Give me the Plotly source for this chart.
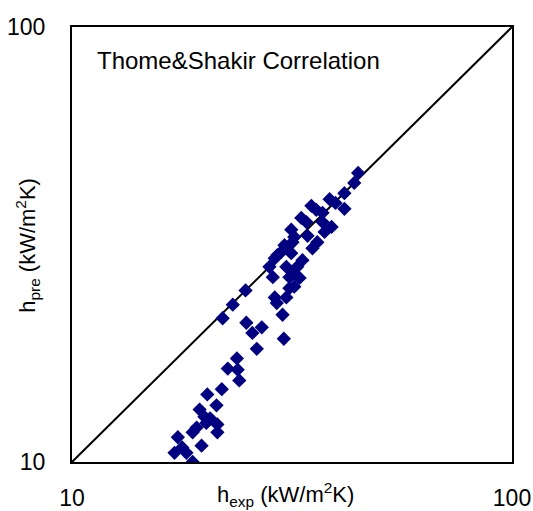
import plotly.graph_objects as go

#%% DATA
h_exp = [44.7, 43.8, 41.6, 38.5, 39.7, 41.6, 35.0, 35.9, 37.1, 33.2,
         34.1, 37.1, 38.9, 37.5, 31.5, 32.0, 34.3, 30.4, 31.7, 36.1,
         35.2, 29.3, 28.9, 31.5, 29.9, 33.4, 28.1, 30.7, 31.7, 32.5,
         28.6, 32.9, 31.2, 32.0, 31.2, 24.8, 28.9, 30.7, 29.2, 23.2,
         22.0, 24.9, 27.0, 25.7, 30.3, 26.3, 30.1, 23.7, 22.6, 23.8,
         24.0, 21.9, 20.3, 21.3, 19.5, 20.0, 20.6, 21.4, 19.2, 21.4,
         18.8, 19.7, 17.4, 17.8, 17.1, 18.2, 18.8, 20.2]
h_pre = [46.2, 43.8, 41.5, 40.2, 39.4, 38.2, 38.8, 38.0, 37.4, 36.4,
         35.6, 35.6, 34.7, 33.8, 34.2, 32.9, 33.1, 31.5, 32.0, 32.0,
         31.0, 29.9, 29.4, 30.2, 30.4, 29.1, 28.1, 28.1, 27.3, 28.1,
         26.6, 26.5, 26.6, 25.3, 25.1, 24.8, 23.9, 23.9, 23.2, 23.0,
         21.4, 20.9, 20.4, 19.8, 19.2, 18.2, 21.8, 17.3, 16.4, 16.3,
         15.4, 14.7, 14.3, 13.5, 13.2, 12.7, 12.6, 12.2, 12.0, 11.7,
         11.7, 10.9, 11.4, 10.8, 10.5, 10.5, 10.0, 12.3]
diag = [10, 100]
tick_vals = [10, 100]
tick_text = ["10", "100"]

FONT = "Arial, Liberation Sans, sans-serif"

#%% PLOT
fig = go.Figure()
fig.add_trace(go.Scatter(
    x=diag, y=diag, mode="lines",
    line=dict(color="black", width=2),
    hoverinfo="skip", showlegend=False,
))
fig.add_trace(go.Scatter(
    x=h_exp, y=h_pre, mode="markers",
    marker=dict(symbol="diamond", size=11, color="#000080"),
    showlegend=False,
))

axis_style = dict(
    type="log", range=[1, 2],
    tickvals=tick_vals, ticktext=tick_text,
    showgrid=False, zeroline=False,
    showline=True, linecolor="black", linewidth=2, mirror=True,
    ticks="", automargin=False,
    tickfont=dict(size=23, color="black", family=FONT),
)

fig.update_layout(
    width=533, height=511,
    margin=dict(l=72, r=21, t=27, b=49),
    paper_bgcolor="white", plot_bgcolor="white",
    font=dict(family=FONT, color="black", size=22),
    xaxis=dict(axis_style, ticklabelstandoff=14),
    yaxis=dict(axis_style, ticklabelstandoff=20),
    annotations=[
        dict(text="Thome&Shakir Correlation", xref="paper", yref="paper",
             x=0.052, y=0.923, xanchor="left", yanchor="middle",
             showarrow=False, font=dict(size=24)),
        dict(text="h<sub>exp</sub> (kW/m<sup>2</sup>K)", xref="paper", yref="paper",
             x=0.485, y=-0.075, xanchor="center", yanchor="middle",
             showarrow=False, font=dict(size=22)),
        dict(text="h<sub>pre</sub> (kW/m<sup>2</sup>K)", xref="paper", yref="paper",
             x=-0.1, y=0.497, xanchor="center", yanchor="middle",
             textangle=-90, showarrow=False, font=dict(size=22)),
    ],
)

# drop the page's default 8px body margin so the figure fills the window
fig.write_html(
    "out.html",
    config={"displayModeBar": False},
    post_script="document.body.style.margin='0';document.body.style.overflow='hidden';",
)
